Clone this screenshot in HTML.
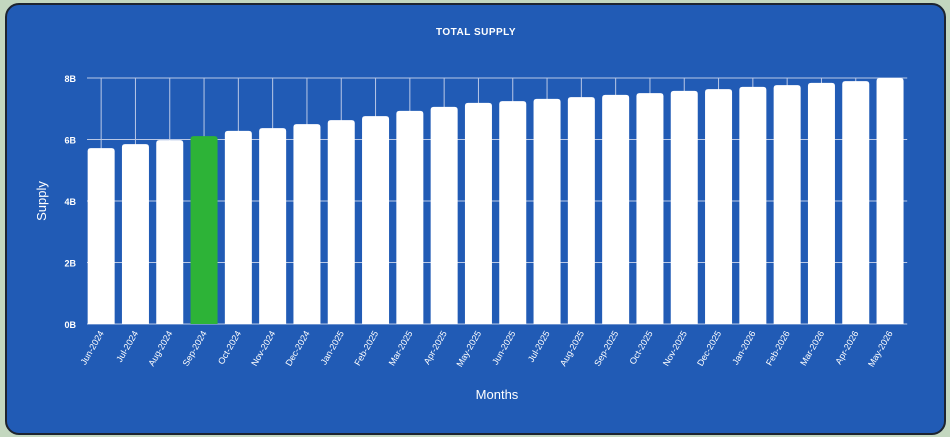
<!DOCTYPE html>
<html><head><meta charset="utf-8"><style>
html,body{margin:0;padding:0;background:#c3d7bf;}
#card{position:absolute;left:5px;top:3px;width:937px;height:428px;background:#215bb5;border:2px solid #1d2430;border-radius:14px;}
svg{position:absolute;left:0;top:0;}
text{font-family:"Liberation Sans",sans-serif;fill:#fff;}
</style></head><body>
<div id="card"></div>
<svg id="chart" width="950" height="437"></svg>
<script>
const categories=["Jun-2024","Jul-2024","Aug-2024","Sep-2024","Oct-2024","Nov-2024","Dec-2024","Jan-2025","Feb-2025","Mar-2025","Apr-2025","May-2025","Jun-2025","Jul-2025","Aug-2025","Sep-2025","Oct-2025","Nov-2025","Dec-2025","Jan-2026","Feb-2026","Mar-2026","Apr-2026","May-2026"];
const supply=[5.72,5.85,5.98,6.11,6.28,6.37,6.5,6.63,6.76,6.93,7.06,7.19,7.25,7.32,7.38,7.45,7.51,7.58,7.64,7.71,7.77,7.84,7.9,8.0];
const yTicks=[0,2,4,6,8];
const yTickLabels=["0B","2B","4B","6B","8B"];
const highlight="Sep-2024";
const NS="http://www.w3.org/2000/svg";
const svg=document.getElementById('chart');
const x0=84,step=34.3,y0=324,yTop=78,yMax=8;
const xc=i=>x0+step*(i+0.5);
const y=v=>y0-(v/yMax)*(y0-yTop);
function el(t,a){const e=document.createElementNS(NS,t);for(const k in a)e.setAttribute(k,a[k]);svg.appendChild(e);return e;}
const right=x0+step*categories.length;
yTicks.forEach((t,i)=>{
 const g=el('line',{x1:87,x2:right,y1:y(t),y2:y(t),stroke:'#b9c8e6','stroke-width':1});
 
 
 const l=el('text',{x:76,y:y(t)+4,'text-anchor':'end','font-size':9,'font-weight':'bold'});
 l.textContent=yTickLabels[i];
 
 
});
categories.forEach((c,i)=>{
 const g=el('line',{x1:xc(i),x2:xc(i),y1:yTop,y2:y0,stroke:'#b9c8e6','stroke-width':1});
 
 
});
categories.forEach((c,i)=>{
 const w=27,top=y(supply[i]);
 const b=el('path',{d:`M${xc(i)-w/2},${y0}V${top+3}Q${xc(i)-w/2},${top} ${xc(i)-w/2+3},${top}H${xc(i)+w/2-3}Q${xc(i)+w/2},${top} ${xc(i)+w/2},${top+3}V${y0}Z`,fill:c===highlight?'#2db337':'#ffffff'});
 
 
 const t=el('text',{x:0,y:0,'text-anchor':'end','font-size':9,transform:`translate(${xc(i)+3},${y0+9}) rotate(-60)`});
 t.textContent=c;
 
 
});
const ti=el('text',{x:476,y:35,'text-anchor':'middle','font-size':10,'font-weight':'bold','letter-spacing':'0.5'});
ti.textContent='TOTAL SUPPLY';


const yl=el('text',{x:0,y:0,'text-anchor':'middle','font-size':13,transform:'translate(46,201) rotate(-90)'});
yl.textContent='Supply';


const xl=el('text',{x:497,y:399,'text-anchor':'middle','font-size':13});
xl.textContent='Months';


</script>
</body></html>
